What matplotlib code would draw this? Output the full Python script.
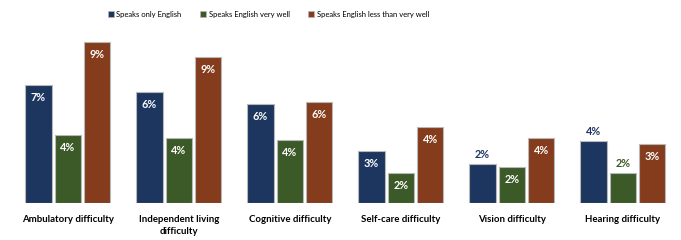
import numpy as np
import matplotlib
matplotlib.use("Agg")
import matplotlib.pyplot as plt
from matplotlib.patches import Patch

plt.rcParams['font.family'] = ['Lato', 'DejaVu Sans']

categories = ["Ambulatory difficulty", "Independent living\ndifficulty", "Cognitive difficulty",
              "Self-care difficulty", "Vision difficulty", "Hearing difficulty"]
series = ["Speaks only English", "Speaks English very well", "Speaks English less than very well"]
only_english = [6.9, 6.5, 5.8, 3.06, 2.26, 3.63]
very_well = [4.0, 3.8, 3.7, 1.77, 2.09, 1.74]
less_well = [9.4, 8.52, 5.9, 4.46, 3.78, 3.45]
# labels drawn above the bar instead of inside: (series index, category index)
outside = [(0, 4), (0, 5), (1, 5)]

colors = ["#1d365f", "#3b5a27", "#843c1c"]

fig = plt.figure(figsize=(6.81, 2.4), dpi=100)
ax = fig.add_axes([0.018, 0.154, 0.978, 0.721])

x = np.arange(len(categories))
step = 0.264
width = 0.236
for i, vals in enumerate([only_english, very_well, less_well]):
    xs = x + (i - 1) * step
    ax.bar(xs, vals, width, color=colors[i], edgecolor="#b8b8b8", linewidth=0.8)
    for j, v in enumerate(vals):
        lab = f"{round(v):.0f}%"
        if (i, j) in outside:
            ax.annotate(lab, (xs[j], v), xytext=(0, 3), textcoords="offset points",
                        ha="center", va="bottom", color=colors[i], fontsize=7.8, fontweight="bold")
        else:
            ax.annotate(lab, (xs[j], v), xytext=(0, -5), textcoords="offset points",
                        ha="center", va="top", color="white", fontsize=7.8, fontweight="bold")

ax.set_xlim(-0.5, len(categories) - 0.5)
ax.set_ylim(0, 10.12)
ax.set_xticks(x)
ax.set_xticklabels(categories, fontsize=6.9, fontweight="bold", linespacing=1.5)
ax.tick_params(axis="x", length=0, pad=8.5)
ax.set_yticks([])
for s in ax.spines.values():
    s.set_visible(False)

handles = [Patch(facecolor=c, edgecolor="#b8b8b8", linewidth=0.5) for c in colors]
fig.legend(handles, series, loc="center", bbox_to_anchor=(0.394, 0.94), ncol=3, frameon=False,
           fontsize=5.5, handlelength=0.8, handleheight=0.8, handletextpad=0.35, columnspacing=2.4)

fig.savefig("out.png", dpi=100)
